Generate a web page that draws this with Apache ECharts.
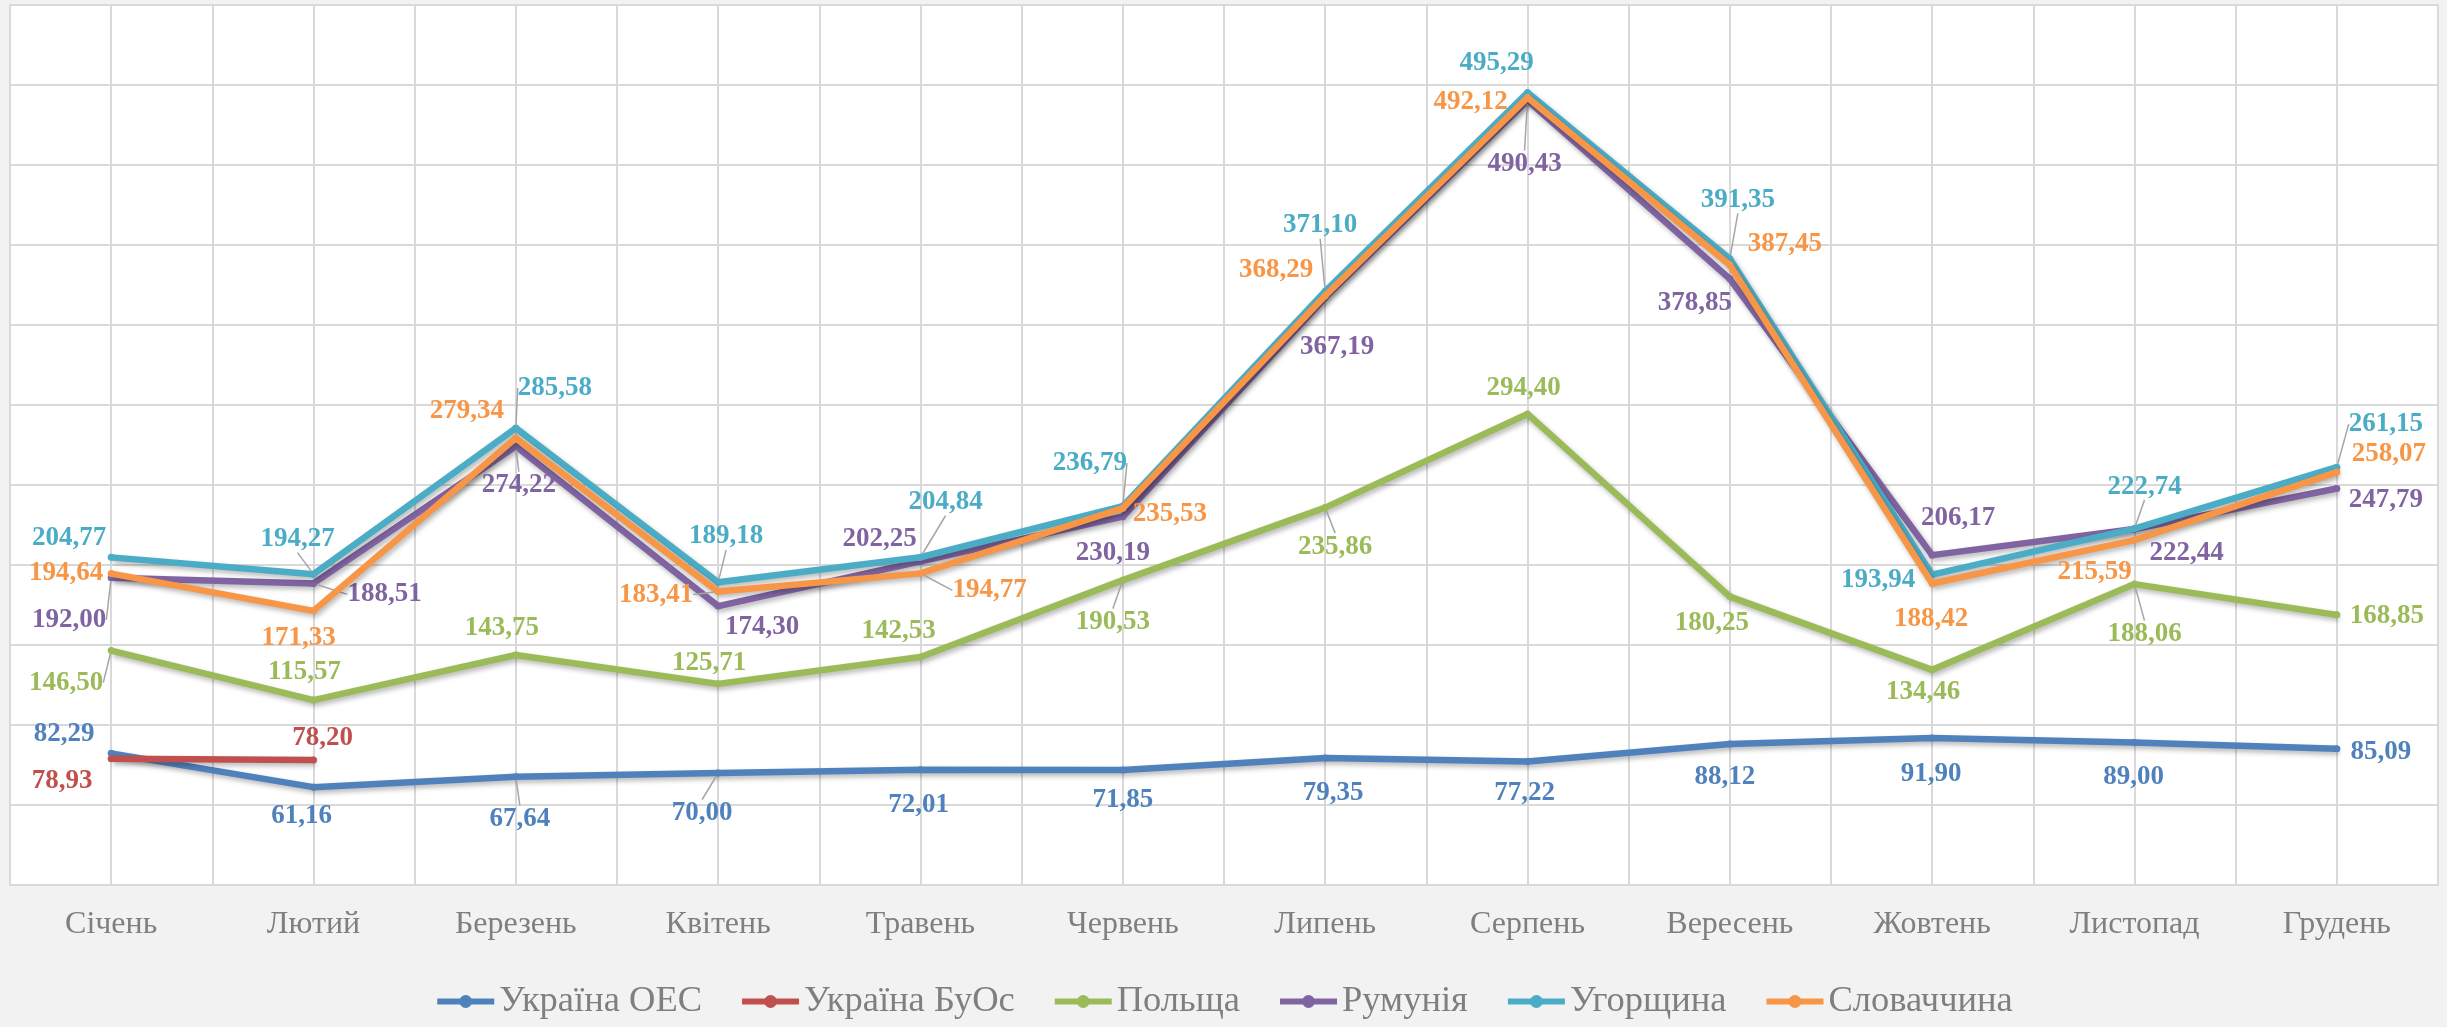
<!DOCTYPE html>
<html>
<head>
<meta charset="utf-8">
<script src="https://cdn.jsdelivr.net/npm/echarts@6/dist/echarts.min.js"></script>
<style>
  html, body { margin: 0; padding: 0; background: #f2f2f2; }
  #chart { width: 2447px; height: 1027px; }
</style>
</head>
<body>
<div id="chart"></div>
<script>
// ---- data ----
const categories = ['Січень', 'Лютий', 'Березень', 'Квітень', 'Травень', 'Червень',
                    'Липень', 'Серпень', 'Вересень', 'Жовтень', 'Листопад', 'Грудень'];
const seriesNames = ['Україна ОЕС', 'Україна БуОс', 'Польща', 'Румунія', 'Угорщина', 'Словаччина'];
const ukraineOES = [82.29, 61.16, 67.64, 70.00, 72.01, 71.85, 79.35, 77.22, 88.12, 91.90, 89.00, 85.09];
const ukraineBuOs = [78.93, 78.20, null, null, null, null, null, null, null, null, null, null];
const poland   = [146.50, 115.57, 143.75, 125.71, 142.53, 190.53, 235.86, 294.40, 180.25, 134.46, 188.06, 168.85];
const romania  = [192.00, 188.51, 274.22, 174.30, 202.25, 230.19, 367.19, 490.43, 378.85, 206.17, 222.44, 247.79];
const hungary  = [204.77, 194.27, 285.58, 189.18, 204.84, 236.79, 371.10, 495.29, 391.35, 193.94, 222.74, 261.15];
const slovakia = [194.64, 171.33, 279.34, 183.41, 194.77, 235.53, 368.29, 492.12, 387.45, 188.42, 215.59, 258.07];
const yMin = 0, yMax = 550, yStep = 50;

// ---- style (label placement, colours) ----
const FONT = '"Liberation Serif", "Times New Roman", serif';
const colors = ['#4f81bd', '#c0504d', '#9bbb59', '#8064a2', '#4bacc6', '#f79646'];
const labelOffsets = [
  [[-47,-19],[-12,29],[4,42],[-16,40],[-2,35],[0,30],[8,35],[-3,32],[-5,33],[-1,36],[-1,34],[44,3]],
  [[-49,22],[9,-22]],
  [[-45,32],[-9,-28],[-14,-27],[-9,-21],[-22,-26],[-10,42],[10,39],[-4,-26],[-18,26],[-9,22],[10,50],[50,1]],
  [[-42,42],[71,11],[3,39],[44,21],[-41,-22],[-10,36],[12,50],[-3,64],[-35,24],[26,-37],[52,24],[49,11]],
  [[-42,-19],[-16,-35],[39,-40],[8,-46],[25,-55],[-33,-43],[-5,-66],[-31,-30],[8,-59],[-54,5],[10,-42],[49,-43]],
  [[-45,-1],[-15,27],[-49,-27],[-62,3],[69,17],[47,6],[-49,-26],[-57,4],[55,-21],[-1,36],[-40,32],[52,-18]]
];
const leaderIdx = [
  [2, 3],
  [],
  [0, 5, 6, 10],
  [0, 1, 2, 7],
  [1, 2, 3, 4, 5, 6, 8, 10, 11],
  [3, 4]
];
const valueSets = [ukraineOES, ukraineBuOs, poland, romania, hungary, slovakia];

function fmt(v) { return v.toFixed(2).replace('.', ','); }

const series = valueSets.map((vals, si) => ({
  name: seriesNames[si],
  type: 'line',
  xAxisIndex: 0,
  yAxisIndex: 0,
  data: vals.map((v, i) => v == null ? '-' : {
    value: v,
    labelLine: { show: leaderIdx[si].indexOf(i) >= 0 }
  }),
  color: colors[si],
  symbol: 'circle',
  symbolSize: 7,
  showSymbol: true,
  connectNulls: false,
  lineStyle: {
    width: 6.5, color: colors[si],
    shadowColor: 'rgba(0,0,0,0.28)', shadowBlur: 5, shadowOffsetX: 2, shadowOffsetY: 3
  },
  itemStyle: { color: colors[si] },
  label: {
    show: true,
    position: 'inside',
    formatter: p => fmt(p.value),
    color: colors[si],
    fontFamily: FONT,
    fontWeight: 'bold',
    fontSize: 27
  },
  labelLine: { show: false, lineStyle: { color: '#a6a6a6', width: 1.5 } },
  labelLayout: p => {
    const o = (labelOffsets[si] || [])[p.dataIndex] || [0, 0];
    return { dx: o[0], dy: o[1] };
  },
  emphasis: { disabled: true },
  z: 2 + si
}));

const chart = echarts.init(document.getElementById('chart'), null, { renderer: 'canvas' });
chart.setOption({
  backgroundColor: '#f2f2f2',
  animation: false,
  grid: {
    left: 10, right: 9, top: 5, bottom: 142,
    show: true, backgroundColor: '#ffffff', borderColor: '#d9d9d9', borderWidth: 2
  },
  legend: {
    data: seriesNames,
    bottom: 2,
    left: 'center',
    itemWidth: 57,
    itemHeight: 16,
    itemGap: 37,
    lineStyle: { width: 6 },
    textStyle: { fontFamily: FONT, fontSize: 36.5, color: '#7f7f7f' }
  },
  xAxis: [
    {
      type: 'category',
      data: categories,
      boundaryGap: true,
      axisLine: { show: false },
      axisTick: { show: false },
      splitLine: { show: false },
      axisLabel: { color: '#7f7f7f', fontFamily: FONT, fontSize: 32, margin: 24 }
    },
    {
      type: 'value',
      position: 'top',
      min: -0.5, max: categories.length - 0.5, interval: 0.5,
      axisLine: { show: false }, axisTick: { show: false }, axisLabel: { show: false },
      splitLine: { show: true, lineStyle: { color: '#d9d9d9', width: 2 } }
    }
  ],
  yAxis: {
    type: 'value',
    min: yMin, max: yMax, interval: yStep,
    axisLine: { show: false }, axisTick: { show: false }, axisLabel: { show: false },
    splitLine: { show: true, lineStyle: { color: '#d9d9d9', width: 2 } }
  },
  series: series
});
</script>
</body>
</html>
